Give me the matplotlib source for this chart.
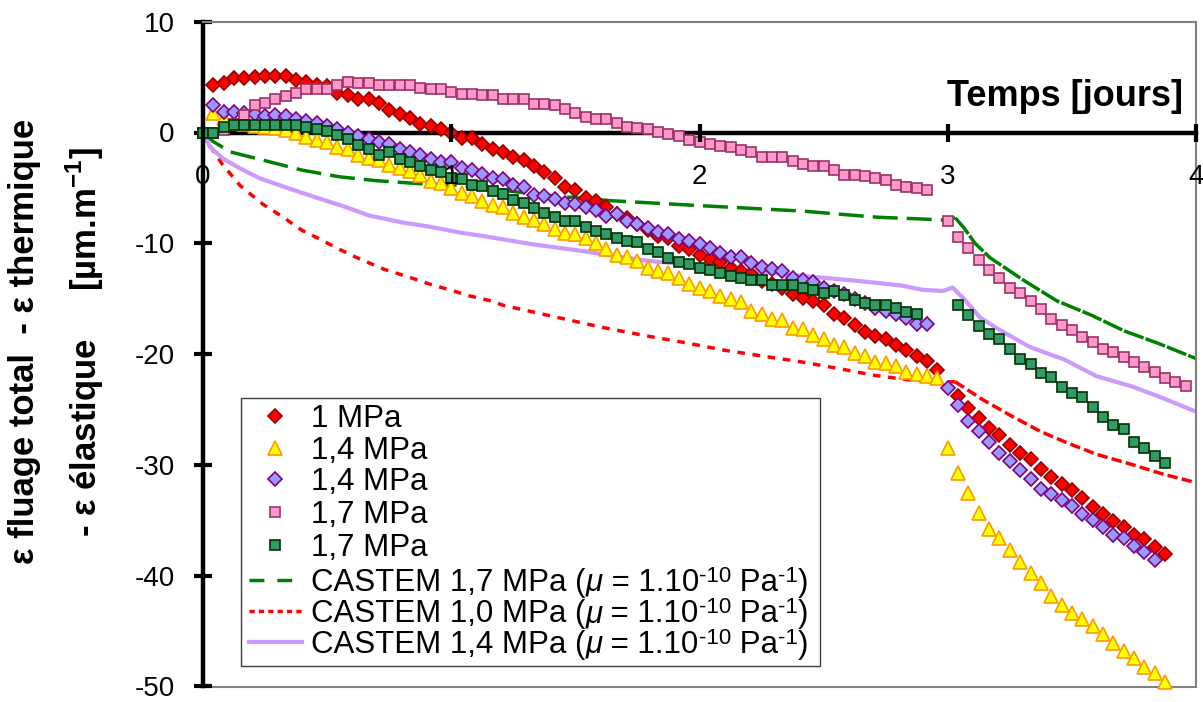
import numpy as np
import matplotlib
matplotlib.use('Agg')
import matplotlib.pyplot as plt
from matplotlib.lines import Line2D
from matplotlib.patches import Rectangle

plt.rcParams['font.family'] = ['Liberation Sans', 'DejaVu Sans']
plt.rcParams['mathtext.fontset'] = 'custom'
plt.rcParams['mathtext.rm'] = 'Liberation Sans'
plt.rcParams['mathtext.bf'] = 'Liberation Sans:bold'
plt.rcParams['axes.unicode_minus'] = False

# measurements, one point per hour
red_hours = list(range(1, 72)) + list(range(73, 94))
red_y = [4.3, 4.5, 4.9, 4.9, 5.0, 5.1, 5.1, 5.1, 4.7, 4.6, 4.3, 4.2, 3.6, 3.4, 3.0, 3.0,
         2.7, 2.0, 1.7, 1.3, 0.8, 0.6, 0.3, 0.0, -0.5, -0.5, -1.0, -1.5, -1.75, -2.25,
         -2.5, -3.0, -3.6, -4.1, -4.9, -5.2, -5.9, -6.2, -6.7, -7.4, -7.7, -8.3, -8.8,
         -9.3, -9.5, -10.2, -10.5, -11.1, -11.4, -11.7, -12.2, -12.5, -12.8, -13.4,
         -13.7, -14.0, -14.6, -14.9, -15.2, -15.6, -16.4, -16.7, -17.4, -18.0, -18.4,
         -18.6, -19.2, -19.6, -20.2, -20.6, -21.4,
         -23.8, -24.9, -25.8, -26.7, -27.3, -28.2, -28.9, -29.5, -30.4, -31.1, -31.7,
         -32.3, -33.0, -33.8, -34.4, -35.1, -35.6, -36.3, -36.7, -37.4, -38.0]

yellow_hours = list(range(1, 94))
yellow_y = [1.8, 1.3, 1.0, 0.8, 0.6, 0.5, 0.4, 0.2, 0.0, -0.45, -0.7, -0.85, -1.3, -1.5,
            -2.05, -2.3, -2.5, -2.9, -3.2, -3.5, -3.8, -4.4, -4.6, -5.0, -5.5, -5.7, -6.2,
            -6.5, -6.7, -7.3, -7.6, -7.9, -8.3, -8.7, -9.05, -9.15, -9.55, -10.0, -10.5,
            -11.1, -11.2, -11.6, -12.2, -12.5, -12.7, -13.1, -13.7, -14.0, -14.35, -14.8,
            -15.0, -15.3, -16.1, -16.4, -16.8, -16.9, -17.6, -17.7, -18.3, -18.6, -19.2,
            -19.35, -19.9, -20.2, -20.7, -20.8, -21.1, -21.6, -21.8, -22.0, -22.2,
            -28.5, -30.75, -32.5, -34.3, -35.8, -36.6, -37.7, -38.75, -39.8, -40.7, -41.8,
            -42.6, -43.4, -43.9, -44.5, -45.3, -46.1, -46.8, -47.4, -48.2, -48.8, -49.6]

purple_hours = list(range(1, 71)) + list(range(72, 93))
purple_y = [2.45, 1.85, 1.85, 1.75, 1.7, 1.5, 1.6, 1.5, 1.2, 1.0, 0.9, 0.6, 0.3, 0.0,
            -0.3, -0.6, -0.85, -1.0, -1.45, -1.75, -2.05, -2.4, -2.65, -2.7, -3.2, -3.4,
            -3.75, -4.15, -4.2, -4.7, -4.95, -5.6, -5.7, -6.0, -6.4, -6.45, -6.7, -7.0,
            -7.5, -7.4, -8.0, -8.25, -8.6, -9.0, -9.2, -9.65, -9.8, -10.1, -10.45, -10.85,
            -11.2, -11.2, -11.75, -12.1, -12.35, -12.5, -13.1, -13.3, -13.5, -14.0, -14.3,
            -14.6, -15.0, -15.4, -15.8, -16.1, -16.4, -16.7, -17.3, -17.3,
            -23.1, -24.6, -26.0, -26.9, -27.9, -28.9, -29.65, -30.5, -31.3, -32.2, -32.6,
            -33.2, -33.7, -34.4, -35.0, -35.6, -36.3, -36.6, -37.3, -37.9, -38.6]

pink_hours = list(range(0, 71)) + list(range(72, 96))
pink_y = [0.0, 0.0, 0.2, 0.8, 1.6, 2.5, 2.7, 3.0, 3.3, 3.55, 3.9, 3.9, 3.9, 4.25, 4.6,
          4.45, 4.45, 4.25, 4.25, 4.25, 4.25, 4.0, 3.9, 3.9, 3.7, 3.5, 3.5, 3.35, 3.35,
          3.0, 3.0, 3.0, 2.6, 2.6, 2.45, 2.1, 1.75, 1.4, 1.2, 1.2, 0.9, 0.5, 0.4, 0.3,
          0.05, -0.1, -0.3, -0.7, -0.9, -1.05, -1.2, -1.3, -1.6, -1.8, -2.2, -2.2, -2.2,
          -2.55, -2.8, -3.0, -3.0, -3.4, -3.8, -3.8, -3.95, -4.15, -4.3, -4.7, -4.9,
          -5.05, -5.2,
          -7.95, -9.45, -10.45, -11.5, -12.4, -13.1, -14.0, -14.5, -15.2, -15.9, -16.8,
          -17.4, -17.85, -18.45, -18.9, -19.5, -19.8, -20.25, -20.7, -21.15, -21.6,
          -22.2, -22.5, -22.9]

green_hours = list(range(0, 70)) + list(range(73, 94))
green_y = [0.0, 0.0, 0.5, 0.65, 0.65, 0.65, 0.65, 0.65, 0.65, 0.65, 0.5, 0.3, 0.1, -0.25,
           -0.55, -1.1, -1.5, -2.0, -1.8, -2.35, -2.7, -3.0, -3.4, -3.6, -4.1, -4.2, -4.7,
           -4.8, -5.3, -5.55, -6.1, -6.4, -6.8, -7.3, -7.65, -8.0, -8.0, -8.5, -8.9, -9.2,
           -9.55, -9.8, -9.9, -10.55, -10.8, -11.3, -11.65, -11.85, -12.25, -12.45,
           -12.65, -12.95, -13.1, -13.3, -13.3, -13.8, -13.8, -13.8, -14.0, -14.2, -14.5,
           -14.35, -14.7, -15.1, -15.4, -15.6, -15.6, -15.8, -16.2, -16.4,
           -15.6, -16.5, -17.5, -18.2, -18.6, -19.5, -20.4, -20.85, -21.7, -22.1, -23.0,
           -23.5, -23.9, -24.8, -25.7, -26.4, -26.8, -27.9, -28.5, -29.2, -29.8]

# CASTEM simulations (time in days)
c17_x = [0, 0.04, 0.11, 0.26, 0.40, 0.55, 0.70, 0.86, 1.02, 1.40, 1.64, 2.0, 2.17, 2.42,
         2.58, 2.72, 2.89, 2.98, 3.03, 3.065, 3.11, 3.17, 3.31, 3.44, 3.58, 3.71, 3.85, 4.0]
c17_y = [0, -0.8, -1.75, -2.6, -3.4, -4.0, -4.35, -4.6, -4.75, -5.7, -6.15, -6.6, -6.8,
         -7.1, -7.4, -7.65, -7.8, -7.9, -7.7, -8.6, -10.0, -11.3, -13.4, -15.2, -16.5,
         -17.9, -19.05, -20.4]
c10_x = [0, 0.016, 0.077, 0.15, 0.24, 0.32, 0.40, 0.46, 0.55, 0.62, 0.73, 0.85, 0.915,
         1.01, 1.065, 1.16, 1.21, 1.31, 1.45, 1.60, 1.75, 1.81, 1.95, 2.10, 2.26, 2.41,
         2.56, 2.70, 2.85, 2.99, 3.03, 3.14, 3.25, 3.375, 3.48, 3.60, 3.74, 3.87, 4.0]
c10_y = [0, -0.8, -2.85, -4.8, -6.45, -7.6, -8.85, -9.5, -10.55, -11.3, -12.35, -13.2,
         -13.7, -14.3, -14.7, -15.2, -15.6, -16.1, -16.8, -17.55, -18.2, -18.45, -19.0,
         -19.65, -20.2, -20.7, -21.3, -21.9, -22.35, -22.5, -22.5, -24.1, -25.5, -27.0,
         -28.0, -29.05, -29.95, -30.85, -31.6]
c14_x = [0, 0.028, 0.08, 0.15, 0.23, 0.34, 0.46, 0.565, 0.67, 0.81, 0.90, 1.04, 1.13,
         1.33, 1.53, 1.67, 1.80, 2.00, 2.37, 2.64, 2.81, 2.90, 2.98, 3.02, 3.065, 3.13,
         3.20, 3.33, 3.47, 3.60, 3.74, 3.87, 4.0]
c14_y = [0, -1.3, -2.35, -3.25, -4.15, -5.0, -5.9, -6.65, -7.5, -8.15, -8.45, -9.05,
         -9.35, -10.1, -10.7, -11.2, -11.6, -12.0, -12.85, -13.4, -13.8, -14.2, -14.3,
         -14.0, -15.0, -16.7, -17.7, -19.35, -20.5, -22.0, -22.9, -24.0, -25.2]

marker_labels = ['1 MPa', '1,4 MPa', '1,4 MPa', '1,7 MPa', '1,7 MPa']
castem_labels = ['CASTEM 1,7 MPa (', 'CASTEM 1,0 MPa (', 'CASTEM 1,4 MPa (']

W, H = 1203, 702
fig = plt.figure(figsize=(W / 100, H / 100), dpi=100)
ax = fig.add_axes([203 / W, 1 - 686.5 / H, 993 / W, 664.8 / H])

def days(h):
    return np.array(h) / 24.0

mk = dict(linestyle='none', mew=1.2)
red_st = dict(marker='D', ms=7.5, mfc='#FF0000', mec='#990000', **mk)
yel_st = dict(marker='^', ms=9.5, mfc='#FFFF00', mec='#FF9900', **mk)
pur_st = dict(marker='D', ms=7.5, mfc='#9999FF', mec='#800080', **mk)
pnk_st = dict(marker='s', ms=7.5, mfc='#FF99CC', mec='#993366', **mk)
grn_st = dict(marker='s', ms=7.5, mfc='#339966', mec='#003300', **mk)

ax.plot(days(red_hours), red_y, zorder=3, clip_on=False, **red_st)
ax.plot(days(yellow_hours), yellow_y, zorder=3, clip_on=False, **yel_st)
ax.plot(days(purple_hours), purple_y, zorder=3, clip_on=False, **pur_st)
ax.plot(days(pink_hours), pink_y, zorder=3, clip_on=False, **pnk_st)
ax.plot(days(green_hours), green_y, zorder=3, clip_on=False, **grn_st)

ax.plot(c17_x[:19], c17_y[:19], color='#008000', lw=2.5, ls=(0, (7.2, 2.6)), zorder=2)
ax.plot(c17_x[18:], c17_y[18:], color='#008000', lw=2.5, ls=(0, (6, 0.6)), zorder=2)
ax.plot(c10_x[:31], c10_y[:31], color='#FF0000', lw=2.5, ls=(0, (2.2, 2.2)), zorder=2)
ax.plot(c10_x[30:], c10_y[30:], color='#FF0000', lw=2.5, ls=(0, (3, 1.2)), zorder=2)
ax.plot(c14_x, c14_y, color='#CC99FF', lw=3, zorder=2)

ax.set_xlim(0, 4)
ax.set_ylim(-50, 10)
ax.set_xticks([0, 1, 2, 3, 4])
ax.set_yticks([-50, -40, -30, -20, -10, 0, 10])

ax.spines['bottom'].set_position(('data', 0))
for s in ['left', 'bottom']:
    ax.spines[s].set_linewidth(3.2)
    ax.spines[s].set_color('black')
for s in ['top', 'right']:
    ax.spines[s].set_linewidth(1.5)
    ax.spines[s].set_color('#808080')
ax.plot([0, 1], [0, 0], transform=ax.transAxes, color='#808080', lw=1.5, clip_on=False, zorder=1)

ax.tick_params(axis='both', direction='inout', length=13, width=3.0, labelsize=20)
ax.tick_params(axis='x', pad=16)
ax.tick_params(axis='y', pad=14)
ax.xaxis.set_zorder(4)

fig.text(1183 / W, 1 - 97 / H, 'Temps [jours]', ha='right', va='center',
         fontsize=26, fontweight='bold')

fig.text(25 / W, 1 - 341 / H, 'ε fluage total  - ε thermique', rotation=90,
         ha='center', va='center', fontsize=25, fontweight='bold')
fig.text(85 / W, 1 - 342 / H, '- ε élastique     [µm.m$^{\\mathbf{-1}}$]', rotation=90,
         ha='center', va='center', fontsize=25, fontweight='bold')

# legend box, laid out like the spreadsheet one
def fx(px):
    return px / W

def fy(py):
    return 1 - py / H

fig.add_artist(Rectangle((fx(241.5), fy(666)), fx(820) - fx(241.5), fy(398) - fy(666),
                         transform=fig.transFigure, facecolor='white', edgecolor='#404040',
                         lw=1.0, zorder=5))
row_y = [416, 448, 479, 512, 545, 580, 611, 642]
for st, yy in zip([red_st, yel_st, pur_st, pnk_st, grn_st], row_y[:5]):
    fig.add_artist(Line2D([fx(275)], [fy(yy)], transform=fig.transFigure, zorder=6, **st))
line_handles = [dict(color='#008000', lw=2.5, ls=(0, (4.3, 3.7))),
                dict(color='#FF0000', lw=2.5, ls=(0, (1.5, 1.2))),
                dict(color='#CC99FF', lw=3)]
for st, yy in zip(line_handles, row_y[5:]):
    fig.add_artist(Line2D([fx(249), fx(302)], [fy(yy), fy(yy)], transform=fig.transFigure,
                          zorder=6, **st))

for lab, yy in zip(marker_labels, row_y[:5]):
    fig.text(fx(311), fy(yy + 11), lab, fontsize=22.5, va='baseline', zorder=6)

# CASTEM labels: italic mu and small raised exponents, written piece by piece
renderer = fig.canvas.get_renderer()
for lab, yy in zip(castem_labels, row_y[5:]):
    parts = [(lab, 22.5, 'normal', 0), ('μ', 22.5, 'italic', 0), (' = 1.10', 22.5, 'normal', 0),
             ('-10', 16, 'normal', 9), (' Pa', 22.5, 'normal', 0), ('-1', 16, 'normal', 9),
             (')', 22.5, 'normal', 0)]
    x = 311
    for s, size, style, rise in parts:
        t = fig.text(fx(x), fy(yy + 11 - rise), s, fontsize=size, fontstyle=style,
                     va='baseline', zorder=6)
        x += t.get_window_extent(renderer).width

fig.savefig('out.png', dpi=100)
